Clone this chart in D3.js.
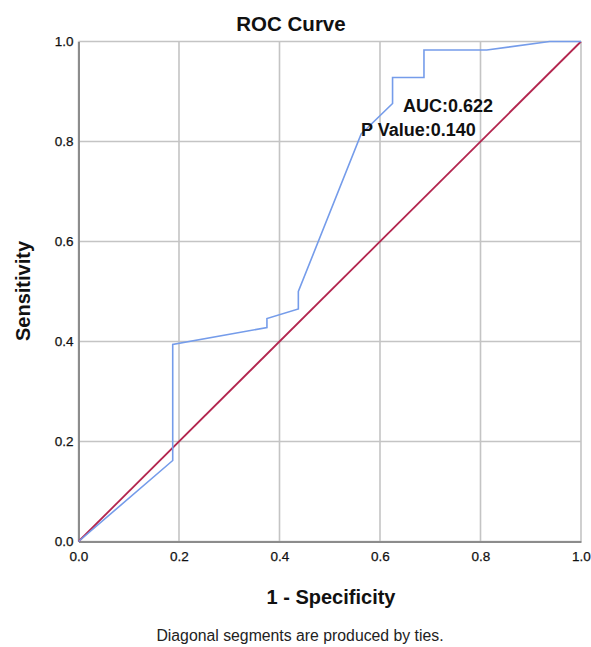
<!DOCTYPE html>
<html><head><meta charset="utf-8">
<script src="https://cdn.jsdelivr.net/npm/d3@7"></script>
<style>body{margin:0;background:#fff}svg{display:block}</style>
</head><body>
<script>
const rocX = [0, 0.1875, 0.1875, 0.375, 0.375, 0.4375, 0.4375, 0.5625, 0.625, 0.625, 0.6875, 0.6875, 0.8125, 0.9375, 1];
const rocY = [0, 0.162, 0.394, 0.428, 0.446, 0.465, 0.50, 0.815, 0.876, 0.928, 0.928, 0.983, 0.983, 1.0, 1];
const refX = [0, 1];
const refY = [0, 1];
const ticks = [0, 0.2, 0.4, 0.6, 0.8, 1.0];
const tickLabels = ["0.0", "0.2", "0.4", "0.6", "0.8", "1.0"];
const title = "ROC Curve";
const xTitle = "1 - Specificity";
const yTitle = "Sensitivity";
const note = "Diagonal segments are produced by ties.";
const annot = ["AUC:0.622", "P Value:0.140"];

const W = 591, H = 647;
const L = 78.5, R = 581, T = 41.5, B = 541.5;
const svg = d3.select("body").append("svg").attr("width", W).attr("height", H);
const x = d3.scaleLinear().domain([0, 1]).range([L, R]);
const y = d3.scaleLinear().domain([0, 1]).range([B, T]);
const font = "Liberation Sans, Arial, sans-serif";

// grid
svg.append("g").selectAll("line.v").data(ticks).join("line")
  .attr("x1", d => x(d)).attr("x2", d => x(d)).attr("y1", T).attr("y2", B)
  .attr("stroke", "#c4c4c4").attr("stroke-width", 1.6);
svg.append("g").selectAll("line.h").data(ticks).join("line")
  .attr("x1", L).attr("x2", R).attr("y1", d => y(d)).attr("y2", d => y(d))
  .attr("stroke", "#c4c4c4").attr("stroke-width", 1.6);

// axes
const xAxis = d3.axisBottom(x).tickValues(ticks).tickFormat((d, i) => tickLabels[i]).tickSize(0).tickPadding(10);
const yAxis = d3.axisLeft(y).tickValues(ticks).tickFormat((d, i) => tickLabels[i]).tickSize(0).tickPadding(5);
const gx = svg.append("g").attr("transform", `translate(0,${B})`).call(xAxis);
const gy = svg.append("g").attr("transform", `translate(${L},0)`).call(yAxis);
[gx, gy].forEach(g => {
  g.select(".domain").attr("stroke", "#8c8c8c").attr("stroke-width", 2);
  g.selectAll("text").attr("font-family", font).attr("font-size", 13.5).attr("fill", "#111")
    .attr("stroke", "#111").attr("stroke-width", 0.25);
});

// lines
const line = d3.line().x(d => x(d[0])).y(d => y(d[1]));
svg.append("path").datum(refX.map((v, i) => [v, refY[i]])).attr("d", line)
  .attr("fill", "none").attr("stroke", "#b3264f").attr("stroke-width", 1.8);
svg.append("path").datum(rocX.map((v, i) => [v, rocY[i]])).attr("d", line)
  .attr("fill", "none").attr("stroke", "#759cea").attr("stroke-width", 1.6);

// annotations
svg.append("text").attr("x", 403).attr("y", 112).text(annot[0])
  .attr("font-family", font).attr("font-weight", "bold").attr("font-size", 18).attr("fill", "#111");
svg.append("text").attr("x", 361).attr("y", 136).text(annot[1])
  .attr("font-family", font).attr("font-weight", "bold").attr("font-size", 18).attr("fill", "#111");

// titles
svg.append("text").attr("x", 291).attr("y", 31).attr("text-anchor", "middle").text(title)
  .attr("font-family", font).attr("font-weight", "bold").attr("font-size", 20.5).attr("fill", "#111");
svg.append("text").attr("x", 331).attr("y", 604).attr("text-anchor", "middle").text(xTitle)
  .attr("font-family", font).attr("font-weight", "bold").attr("font-size", 20).attr("fill", "#111");
svg.append("text").attr("transform", "translate(30,291) rotate(-90)").attr("text-anchor", "middle").text(yTitle)
  .attr("font-family", font).attr("font-weight", "bold").attr("font-size", 20).attr("fill", "#111");
svg.append("text").attr("x", 300).attr("y", 641).attr("text-anchor", "middle").text(note)
  .attr("font-family", font).attr("font-size", 15.8).attr("fill", "#222");
</script>
</body></html>
